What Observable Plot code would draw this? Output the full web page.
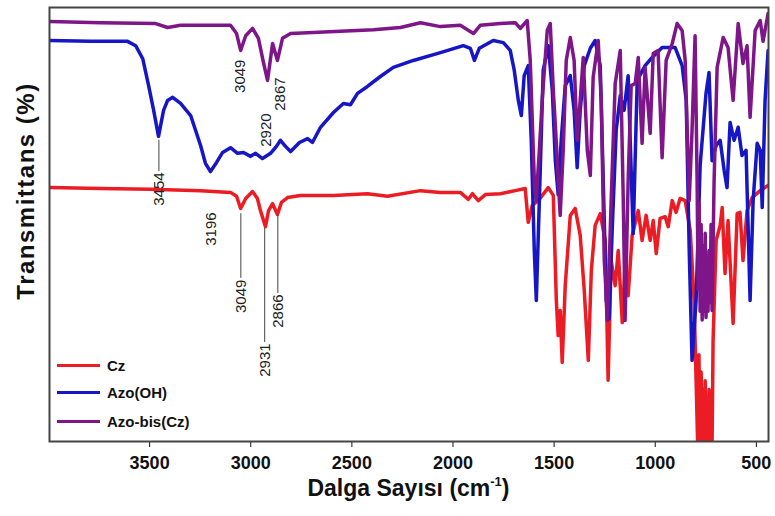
<!DOCTYPE html>
<html><head><meta charset="utf-8">
<script src="https://cdn.jsdelivr.net/npm/d3@7"></script>
<script src="https://cdn.jsdelivr.net/npm/@observablehq/plot@0.6"></script>
<style>
body{margin:0;background:#fff;font-family:"Liberation Sans",Arial,sans-serif;}
#wrap{position:relative;width:775px;height:516px;overflow:hidden;background:#fff;}
#ytitle{position:absolute;left:26px;top:191px;transform:translate(-50%,-50%) rotate(-90deg);font-size:24px;font-weight:bold;letter-spacing:1.5px;white-space:nowrap;line-height:1;color:#111;}
#xtitle{position:absolute;left:49px;width:719px;top:477px;text-align:center;font-size:23px;font-weight:bold;line-height:23px;color:#111;white-space:nowrap;}
#xtitle sup{font-size:13px;vertical-align:baseline;position:relative;top:-10px;}
.leg{position:absolute;left:57px;height:20px;display:flex;align-items:center;font-size:15px;font-weight:bold;color:#111;white-space:nowrap;}
.leg .sw{display:inline-block;width:43px;height:3px;margin-right:7px;}
</style></head>
<body>
<div id="wrap"><div id="chart"></div>
<div id="ytitle">Transmittans (%)</div>
<div id="xtitle">Dalga Sayısı (cm<sup>-1</sup>)</div>
<div id="legend"></div>
</div>
<script>
// Series names and colours
const seriesNames = ["Cz", "Azo(OH)", "Azo-bis(Cz)"];
const seriesColors = ["#ec1c24", "#1616c4", "#7e168a"];
const xTicks = [3500, 3000, 2500, 2000, 1500, 1000, 500];

// Cz (red)
const czWave = [3994,3742,3495,3248,3100,3070,3050,3025,2991,2967,2952,2927,2912,2892,2868,2848,2818,2754,2591,2423,2324,2161,2062,1964,1924,1904,1875,1840,1766,1692,1643,1628,1608,1578,1529,1504,1489,1480,1470,1460,1445,1420,1396,1371,1351,1331,1316,1297,1272,1247,1233,1218,1198,1183,1163,1149,1134,1114,1084,1065,1045,1025,1010,995,976,951,936,916,897,877,852,827,808,798,790,784,778,773,768,763,758,753,749,744,739,734,729,724,719,714,699,679,669,655,640,615,595,581,566,546,521,481,442];
const czT = [58.5,58.3,58.1,57.8,57.4,56.5,53.7,56.0,57.6,56.0,53.2,49.5,53.2,54.8,52.3,55.1,56.2,56.7,56.7,57.1,56.5,57.8,57.4,57.4,55.8,57.1,55.5,56.9,57.1,57.8,58.3,50.5,54.4,55.5,58.5,56.7,32.5,24.4,30.2,18.2,35.9,52.1,53.7,47.5,34.8,18.7,39.4,49.8,52.5,46.3,14.1,41.7,35.9,44.0,27.4,41.2,33.6,47.5,53.2,46.3,52.1,46.3,50.9,43.3,51.4,51.8,49.5,55.5,52.8,56.0,55.5,48.6,32.5,14.1,-1,20,-1,16,-1,12,-1,14,-1,10,-1,12,-1,9,-1,23.3,46.3,49.8,53.9,38.7,50.9,27.2,52.5,52.8,41.7,53.2,56.2,57.8,59.0];

// Azo(OH) (blue)
const azoWave = [3994,3792,3609,3569,3534,3505,3480,3456,3431,3411,3386,3347,3297,3248,3224,3199,3169,3139,3100,3065,3036,3001,2976,2942,2902,2873,2853,2828,2803,2759,2719,2695,2655,2591,2542,2507,2472,2423,2359,2295,2196,2062,1949,1914,1894,1870,1801,1751,1717,1697,1677,1662,1648,1628,1613,1598,1588,1573,1554,1529,1509,1494,1480,1465,1445,1420,1401,1386,1371,1351,1321,1297,1272,1257,1242,1228,1213,1193,1173,1154,1134,1109,1089,1050,1015,966,902,867,847,832,818,798,778,749,734,719,699,679,659,645,630,610,590,571,551,531,516,496,481,471,457,442];
const azoT = [92.4,92.2,92.2,91.2,88.2,82.0,76.3,70.3,76.3,78.6,79.3,77.9,75.1,68.2,64.1,62.2,64.3,66.6,67.7,66.4,66.6,65.7,66.4,65.2,66.4,68.0,69.4,68.0,66.8,68.9,69.8,68.9,72.4,75.8,77.9,77.6,80.2,81.8,84.1,86.2,87.8,89.6,91.2,90.6,87.8,90.6,92.4,91.9,90.1,85.5,78.6,75.1,84.3,86.6,69.4,44.0,32.5,55.5,85.5,91.2,80.9,64.7,56.9,69.4,82.0,84.3,76.3,63.1,76.3,86.6,90.6,92.4,86.6,60.1,32.5,28.3,48.6,71.7,79.7,76.3,84.3,47.9,83.2,86.6,88.5,90.8,90.8,86.6,78.6,44.0,18.7,32.5,63.6,80.2,85.0,64.7,68.2,69.4,62.4,58.5,73.5,69.4,72.4,65.9,67.1,32.5,55.5,68.7,67.1,53.9,78.6,90.1];

// Azo-bis(Cz) (purple)
const bisWave = [3994,3742,3470,3411,3347,3100,3070,3050,3025,2991,2962,2937,2917,2892,2868,2843,2803,2719,2556,2393,2260,2161,2062,1964,1899,1865,1766,1692,1667,1633,1618,1603,1596,1588,1580,1573,1559,1534,1519,1504,1484,1477,1470,1462,1455,1440,1420,1401,1386,1371,1356,1336,1321,1307,1282,1267,1252,1245,1237,1228,1218,1198,1173,1158,1149,1134,1119,1099,1084,1065,1050,1025,1010,986,966,946,916,892,867,852,832,818,803,793,788,783,778,773,768,763,758,753,749,744,739,734,729,724,719,709,694,664,640,615,590,566,546,531,506,481,467,442];
const bisT = [96.8,96.5,96.3,95.4,95.9,95.9,94.0,90.1,93.5,95.2,92.9,87.3,83.2,91.7,87.8,92.9,94.0,94.2,94.5,94.9,95.4,96.5,95.6,95.9,94.0,95.9,96.3,96.5,95.2,97.0,87.8,67.1,58,55.5,62,67.1,78.6,94.7,96.3,80.9,64.7,58,52.1,60,67.1,87.8,93.1,87.8,69.4,78.6,88.5,67.1,61.3,83.9,92.4,78.6,41.7,36,27.9,40,55.5,82.5,90.1,55.5,27.9,60.1,82.0,82.5,88.5,68.7,86.2,71.0,89.4,90.1,65.4,87.8,91.7,96.3,94.7,87.8,55.5,71.7,93.5,60,35,55,30,50,28,45,30,48,28.6,40,30,44,32,50,30.2,60.1,86.2,93.1,90.8,78.6,96.3,87.1,91.2,74.7,94.7,97.0,92.2,98.6];

// Peak annotations
const peakLabels = ["3049", "2920", "2867", "3454", "3196", "3049", "2931", "2866"];
const peakWave   = [3050, 2922, 2853, 3454, 3196, 3049, 2931, 2866];
const peakTop    = [88.0, 75.6, 83.9, 62.0, 52.8, 37.3, 22.6, 33.9];
// Leader lines
const leaderWave = [3454, 3049, 2931, 2866];
const leaderFrom = [69.4, 52.5, 49.1, 52.1];
const leaderTo   = [62.2, 37.6, 22.8, 34.1];

const toRows = (w, t) => w.map((x, i) => ({w: x, t: t[i]}));
const cz = toRows(czWave, czT), azo = toRows(azoWave, azoT), bis = toRows(bisWave, bisT);
const peaks = peakLabels.map((l, i) => ({label: l, x: peakWave[i], y: peakTop[i]}));
const leaders = leaderWave.map((x, i) => ({x, y1: leaderFrom[i], y2: leaderTo[i]}));

const chart = Plot.plot({
  width: 775, height: 476,
  marginTop: 7, marginLeft: 49, marginRight: 7, marginBottom: 35,
  style: {fontFamily: '"Liberation Sans", Arial, sans-serif', fontSize: "18px", fontWeight: "bold", color: "#111", background: "#fff"},
  x: {domain: [3995, 440], ticks: xTicks, tickFormat: d => String(d), tickSize: 6, tickPadding: 9, label: null},
  y: {domain: [0, 100], axis: null},
  marks: [
    Plot.line(cz, {x: "w", y: "t", stroke: seriesColors[0], strokeWidth: 3.5, strokeLinejoin: "round", clip: true}),
    Plot.line(azo, {x: "w", y: "t", stroke: seriesColors[1], strokeWidth: 3.5, strokeLinejoin: "round", clip: true}),
    Plot.line(bis, {x: "w", y: "t", stroke: seriesColors[2], strokeWidth: 3.5, strokeLinejoin: "round", clip: true}),
    Plot.ruleX(leaders, {x: "x", y1: "y1", y2: "y2", stroke: "#444", strokeWidth: 1}),
    Plot.text(peaks, {x: "x", y: "y", text: "label", rotate: -90, textAnchor: "end", lineAnchor: "middle", fontSize: 15, fontWeight: "normal", fill: "#222"}),
    Plot.frame({stroke: "#444", strokeWidth: 2})
  ]
});
document.getElementById("chart").appendChild(chart);

const leg = document.getElementById("legend");
const legTops = [355, 382, 411];
seriesNames.forEach((n, i) => {
  const d = document.createElement("div");
  d.className = "leg";
  d.style.top = legTops[i] + "px";
  d.innerHTML = `<span class="sw" style="background:${seriesColors[i]}"></span><span></span>`;
  d.lastChild.textContent = n;
  leg.appendChild(d);
});
</script>
</body></html>
